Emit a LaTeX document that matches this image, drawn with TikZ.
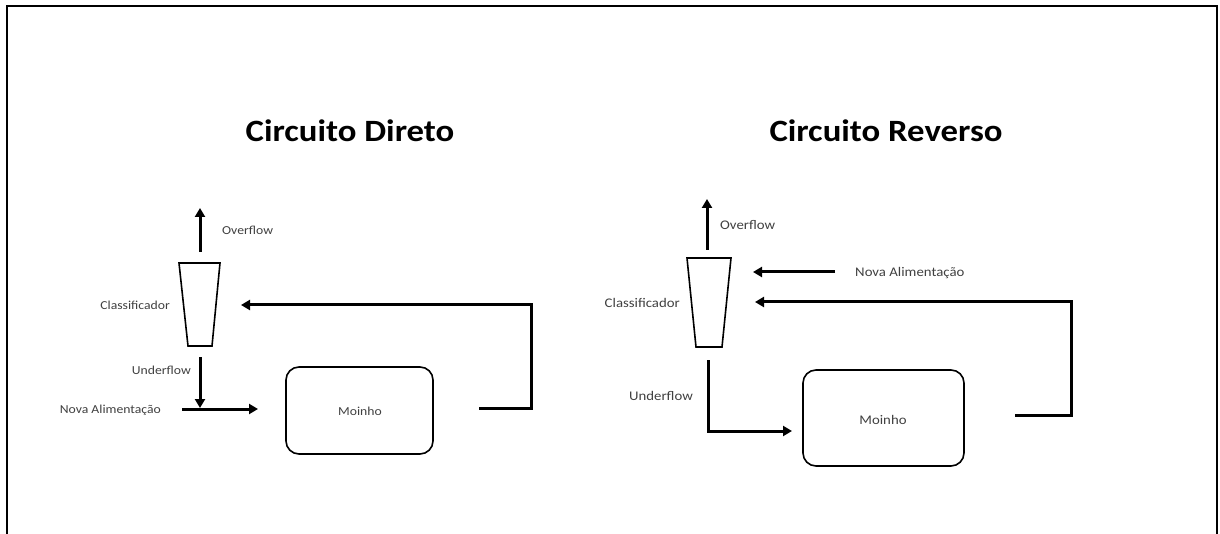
\documentclass[tikz,border=0pt]{standalone}
\usepackage{fontspec}
\setmainfont[FakeStretch=1.12]{Carlito}
\usetikzlibrary{arrows.meta}
\definecolor{lbl}{HTML}{404040}
\begin{document}
\begin{tikzpicture}[x=1pt,y=-1pt,
  flow/.style={line width=3pt,-{Triangle[length=9pt,width=10pt]}},
  outline/.style={line width=1.6pt,line join=miter},
  lblL/.style={font=\fontsize{12.2}{14}\selectfont,text=lbl,inner sep=0pt},
  lblR/.style={font=\fontsize{13.2}{15}\selectfont,text=lbl,inner sep=0pt},
  ttl/.style={font=\fontsize{31}{34}\selectfont\bfseries,inner sep=0pt,anchor=base},
  mill/.style={draw,line width=1.6pt,rounded corners=13pt,inner sep=0pt}
]
\useasboundingbox (0,0) rectangle (1220,534);
\draw[line width=2pt] (7,534) -- (7,6) -- (1217,6) -- (1217,534);

% titles
\node[ttl] (t1) at (350,142) {Circuito Direto};
\node[ttl] (t2) at (886,142) {Circuito Reverso};

% ---------- Circuito Direto ----------
\draw[outline] (179,263) -- (220,263) -- (212,346) -- (188,346) -- cycle;
\node[minimum width=41pt,minimum height=83pt,inner sep=0pt] (clsL) at (200,304.5) {};
\node[mill,minimum width=147pt,minimum height=87pt] (millL) at (359.5,410.5) {};
\node[lblL,anchor=base] (moL) at (360,415) {Moinho};

\coordinate (ovLs) at (200,252);
\coordinate (ovLe) at (200,208);
\draw[flow] (ovLs) -- (ovLe);
\node[lblL,anchor=base west] (ovLlbl) at (222,235) {Overflow};
\node[lblL,anchor=base east] (clLlbl) at (170,309.5) {Classificador};

\coordinate (unLs) at (200,357);
\coordinate (unLe) at (200,408);
\draw[flow] (unLs) -- (unLe);
\node[lblL,anchor=base east] (unLlbl) at (191,374) {Underflow};

\coordinate (nvLs) at (182,409);
\coordinate (nvLe) at (258,409);
\draw[flow] (nvLs) -- (nvLe);
\node[lblL,anchor=base east] (nvLlbl) at (161,413) {Nova Alimentação};

\coordinate (rcLs) at (479,408);
\coordinate (rcLc1) at (531,408);
\coordinate (rcLc2) at (531,305);
\coordinate (rcLe) at (241,305);
\draw[flow,line join=miter] (rcLs) -- (rcLc1) -- (rcLc2) -- (rcLe);

% ---------- Circuito Reverso ----------
\draw[outline] (687,258) -- (731,258) -- (722,347) -- (696,347) -- cycle;
\node[minimum width=44pt,minimum height=89pt,inner sep=0pt] (clsR) at (709,302.5) {};
\node[mill,minimum width=161pt,minimum height=96pt] (millR) at (883.5,418) {};
\node[lblR,anchor=base] (moR) at (883,424) {Moinho};

\coordinate (ovRs) at (707,250);
\coordinate (ovRe) at (707,199);
\draw[flow] (ovRs) -- (ovRe);
\node[lblR,anchor=base west] (ovRlbl) at (720,230) {Overflow};
\node[lblR,anchor=base east] (clRlbl) at (680,308) {Classificador};

\coordinate (nvRs) at (835,272);
\coordinate (nvRe) at (753,272);
\draw[flow] (nvRs) -- (nvRe);
\node[lblR,anchor=base west] (nvRlbl) at (855,277) {Nova Alimentação};

\coordinate (rcRs) at (1015,415);
\coordinate (rcRc1) at (1071,415);
\coordinate (rcRc2) at (1071,302);
\coordinate (rcRe) at (755,302);
\draw[flow,line join=miter] (rcRs) -- (rcRc1) -- (rcRc2) -- (rcRe);

\coordinate (unRs) at (708,360);
\coordinate (unRc) at (708,431);
\coordinate (unRe) at (792,431);
\draw[flow,line join=miter] (unRs) -- (unRc) -- (unRe);
\node[lblR,anchor=base east] (unRlbl) at (693,400) {Underflow};
\end{tikzpicture}
\end{document}
